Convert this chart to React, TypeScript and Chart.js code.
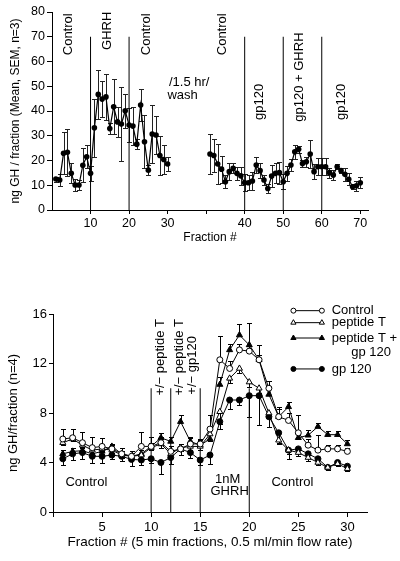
import React, { useEffect, useRef } from "react";
import { Chart, registerables } from "chart.js";

Chart.register(...registerables);
Chart.defaults.font.family = "'Liberation Sans', Arial, Helvetica, sans-serif";
Chart.defaults.color = "#000";

// ---------------- Top panel data ----------------
const topLeftFractions = [1,2,3,4,5,6,7,8,9,10,11,12,13,14,15,16,17,18,19,20,21,22,23,24,25,26,27,28,29,30];
const topLeftMean = [12.5,12.1,22.9,23.3,14.8,10.1,10.1,18.1,21.5,14.8,33.2,46.7,44.8,45.7,32.9,41.7,35.6,34.7,40.1,34.3,33.9,26.6,42.4,27.6,16.1,30.7,30.3,22.0,20.4,18.6];
const topLeftSem = [1.0,2.5,8.5,9.4,4.0,2.5,2.0,6.8,4.7,3.0,11.8,9.8,7.2,9.2,2.2,11.1,6.0,14.8,6.9,6.8,7.8,2.0,6.6,10.7,2.0,11.7,7.6,8.0,5.8,2.9];

const topRightFractions = [31,32,33,34,35,36,37,38,39,40,41,42,43,44,45,46,47,48,49,50,51,52,53,54,55,56,57,58,59,60,61,62,63,64,65,66,67,68,69,70];
const topRightMean = [22.6,22.0,18.6,16.5,11.4,15.5,16.8,14.8,13.8,11.0,11.0,11.7,18.2,15.9,12.1,8.7,13.7,14.8,15.1,11.4,14.8,18.2,23.5,24.5,18.8,19.5,22.6,15.5,17.5,17.5,17.5,15.1,14.1,17.5,15.9,14.4,12.4,9.4,9.8,11.0];
const topRightSem = [8.0,6.5,7.9,5.5,2.7,3.3,2.0,2.7,3.5,3.5,3.0,3.5,3.3,3.0,2.0,2.0,4.5,4.0,4.4,3.0,3.0,2.5,2.7,1.5,1.5,2.0,5.6,3.0,3.5,3.5,3.5,2.0,2.0,1.0,1.0,2.5,2.5,1.0,2.0,2.2];

// axis break: fractions after 30 are shifted along the axis by this amount (1.5 hr wash gap)
const AXIS_BREAK_AFTER = 30;
const AXIS_BREAK_SHIFT = 10;
const topTickFractions = [10, 20, 30, null, 40, 50, 60, 70];
const topPhaseFractions = [10, 20, 40, 50, 60];
const topPhaseHeight = 70;

// ---------------- Bottom panel data ----------------
const botFractions = [1,2,3,4,5,6,7,8,9,10,11,12,13,14,15,16,17,18,19,20,21,22,23,24,25,26,27,28,29,30];
const botControl = [5.9,6.0,5.6,5.2,5.3,5.1,4.7,4.5,5.3,5.3,5.6,4.9,5.1,5.5,5.5,6.7,12.3,11.6,13.1,13.0,12.3,10.0,7.7,7.4,6.4,5.4,5.0,5.1,5.1,4.9];
const botPeptideT = [5.6,5.9,5.4,5.0,5.1,5.0,4.6,4.5,4.6,5.2,5.5,4.7,5.2,5.3,5.3,6.3,8.1,10.8,11.6,10.5,10.0,8.0,5.8,5.0,4.8,4.4,4.0,3.6,3.9,3.5];
const botPeptideTgp = [4.7,4.9,4.95,4.7,4.9,5.3,4.7,4.5,4.7,5.3,6.0,5.7,7.3,5.7,5.4,5.9,10.3,13.1,14.3,13.5,12.3,9.5,7.7,8.5,6.0,6.2,6.9,6.25,6.25,5.5];
const botGp120 = [4.3,4.7,4.8,4.5,4.5,4.6,4.5,4.25,4.2,4.3,4.0,4.4,5.1,4.8,4.2,4.6,7.3,9.05,9.05,9.4,9.4,7.7,6.4,5.0,5.1,4.7,4.3,3.6,4.0,3.7];

const botControlErr = [0.8,0.7,0.85,0.9,0.7,0.3,0.5,0.4,1.2,0.8,0.5,0.4,0.4,0.6,0.4,1.1,1.9,0.6,0.5,0.4,0.4,0.6,0.6,0.6,1.4,0.5,1.2,0.3,0.3,0.3];
const botPeptideTErr = [0.2,0.2,0.2,0.2,0.2,0.2,0.2,0.2,0.2,0.2,0.3,0.3,0.3,0.3,0.3,0.6,1.0,0.4,0.4,0.4,0.4,0.4,0.3,0.3,0.3,0.3,0.2,0.2,0.2,0.2];
const botPeptideTgpErr = [0.3,0.3,0.3,0.3,0.3,0.2,0.2,0.3,0.3,0.3,0.4,0.4,0.5,0.3,0.4,0.8,0.6,0.5,0.9,1.8,1.2,0.6,0.8,0.4,0.4,0.4,0.3,0.3,0.3,0.3];
const botGp120Err = [0.5,0.5,0.5,0.5,0.5,0.3,0.4,0.5,0.4,0.3,0.9,0.5,0.5,0.4,0.4,0.7,0.6,0.7,0.4,1.7,2.4,0.8,0.8,0.7,0.3,0.3,0.3,0.2,0.2,0.2];

const botPhaseFractions = [10, 12, 15, 20];
const botPhaseHeight = 10;
const botTicks = [0, 5, 10, 15, 20, 25, 30];

const FONT = "'Liberation Sans', Arial, Helvetica, sans-serif";

function axisPos(f: number) {
  return f > AXIS_BREAK_AFTER ? f + AXIS_BREAK_SHIFT : f;
}

// ---------------- plugins ----------------
const errorBarPlugin = {
  id: "errorBars",
  beforeDatasetsDraw(chart: any) {
    const { ctx, scales } = chart;
    const x = scales.x, y = scales.y;
    chart.data.datasets.forEach((ds: any) => {
      if (!ds.errors) return;
      const cap = ds.errorCap ?? 3;
      const dir = ds.errorDir ?? 0;
      ctx.save();
      ctx.strokeStyle = ds.errorColor ?? "#000";
      ctx.lineWidth = 1;
      ds.data.forEach((pt: any, j: number) => {
        const e = ds.errors[j];
        if (!e) return;
        const px = Math.round(x.getPixelForValue(pt.x)) + 0.5;
        const hi = dir >= 0 ? pt.y + e : pt.y;
        const lo = dir <= 0 ? pt.y - e : pt.y;
        const yHi = Math.round(y.getPixelForValue(hi)) + 0.5;
        const yLo = Math.round(y.getPixelForValue(lo)) + 0.5;
        ctx.beginPath();
        ctx.moveTo(px, yHi);
        ctx.lineTo(px, yLo);
        if (dir >= 0) { ctx.moveTo(px - cap, yHi); ctx.lineTo(px + cap, yHi); }
        if (dir <= 0) { ctx.moveTo(px - cap, yLo); ctx.lineTo(px + cap, yLo); }
        ctx.stroke();
      });
      ctx.restore();
    });
  },
};

const notesPlugin = {
  id: "notes",
  afterDatasetsDraw(chart: any, _args: any, opts: any) {
    const { ctx, scales } = chart;
    const x = scales.x, y = scales.y;
    (opts.items || []).forEach((it: any) => {
      ctx.save();
      ctx.font = `${it.size ?? 13}px ${FONT}`;
      ctx.fillStyle = "#000";
      ctx.textAlign = it.align ?? "center";
      ctx.textBaseline = "middle";
      ctx.translate(x.getPixelForValue(it.x), y.getPixelForValue(it.y));
      if (it.rot) ctx.rotate(-Math.PI / 2);
      ctx.fillText(it.text, 0, 0);
      ctx.restore();
    });
  },
};

function drawMarker(ctx: CanvasRenderingContext2D, style: string, filled: boolean, cx: number, cy: number, r: number) {
  ctx.beginPath();
  if (style === "triangle") {
    let rad = 0;
    ctx.moveTo(cx + Math.sin(rad) * r, cy - Math.cos(rad) * r);
    rad += (2 * Math.PI) / 3;
    ctx.lineTo(cx + Math.sin(rad) * r, cy - Math.cos(rad) * r);
    rad += (2 * Math.PI) / 3;
    ctx.lineTo(cx + Math.sin(rad) * r, cy - Math.cos(rad) * r);
    ctx.closePath();
  } else {
    ctx.arc(cx, cy, r, 0, Math.PI * 2);
  }
  ctx.fillStyle = filled ? "#000" : "#fff";
  ctx.fill();
  ctx.strokeStyle = "#000";
  ctx.lineWidth = 1;
  ctx.stroke();
}

const keyPlugin = {
  id: "key",
  afterDraw(chart: any, _args: any, opts: any) {
    if (!opts.items) return;
    const { ctx, scales } = chart;
    const x = scales.x, y = scales.y;
    const x0 = x.getPixelForValue(opts.markerFrom);
    const x1 = x.getPixelForValue(opts.markerTo);
    const xt = x.getPixelForValue(opts.textAt);
    ctx.save();
    opts.items.forEach((it: any) => {
      const py = y.getPixelForValue(it.y);
      if (it.style) {
        ctx.beginPath();
        ctx.moveTo(x0, py);
        ctx.lineTo(x1, py);
        ctx.strokeStyle = "#000";
        ctx.lineWidth = 1;
        ctx.stroke();
        drawMarker(ctx, it.style, it.filled, x0, py, it.r);
        drawMarker(ctx, it.style, it.filled, x1, py, it.r);
      }
      ctx.font = `13px ${FONT}`;
      ctx.fillStyle = "#000";
      ctx.textAlign = "left";
      ctx.textBaseline = "middle";
      const tx = it.indent ? x.getPixelForValue(it.indent) : xt;
      ctx.fillText(it.text, tx, py);
    });
    ctx.restore();
  },
};

function fixedScale(opts: { width?: number; height?: number }) {
  return (scale: any) => {
    if (opts.width !== undefined) {
      scale.width = opts.width;
      scale.paddingTop = 0;
      scale.paddingBottom = 0;
    }
    if (opts.height !== undefined) {
      scale.height = opts.height;
      scale.paddingLeft = 0;
      scale.paddingRight = 0;
    }
  };
}

const axisGrid = { display: true, drawOnChartArea: false, drawTicks: true, tickLength: 5, color: "#000", lineWidth: 1 };
const axisBorder = { display: true, color: "#000", width: 1 };

function phaseLineDatasets(fracs: number[], top: number, map: (f: number) => number) {
  return fracs.map((f) => ({
    type: "line" as const,
    data: [{ x: map(f), y: 0 }, { x: map(f), y: top }],
    borderColor: "#000",
    borderWidth: 1,
    pointRadius: 0,
    fill: false,
  }));
}

function topConfig(): any {
  const leftData = topLeftFractions.map((f, i) => ({ x: axisPos(f), y: topLeftMean[i] }));
  const rightData = topRightFractions.map((f, i) => ({ x: axisPos(f), y: topRightMean[i] }));
  const seriesStyle = {
    borderColor: "#000",
    borderWidth: 1.2,
    pointRadius: 2.8,
    pointBackgroundColor: "#000",
    pointBorderColor: "#000",
    pointBorderWidth: 0,
    tension: 0,
    fill: false,
    errorDir: 0,
    errorCap: 2.5,
    errorColor: "#222",
  };
  const tickPositions = topTickFractions.map((f) =>
    f === null ? axisPos(AXIS_BREAK_AFTER) + AXIS_BREAK_SHIFT : axisPos(f)
  );
  const tickLabel = new Map<number, string>();
  topTickFractions.forEach((f, i) => tickLabel.set(tickPositions[i], f === null ? "" : String(f)));
  return {
    type: "line",
    data: {
      datasets: [
        { ...seriesStyle, data: leftData, errors: topLeftSem },
        { ...seriesStyle, data: rightData, errors: topRightSem },
        ...phaseLineDatasets(topPhaseFractions, topPhaseHeight, axisPos),
      ],
    },
    options: {
      responsive: false,
      animation: false,
      devicePixelRatio: 1,
      layout: { padding: { left: 0, right: 32, top: 12, bottom: 0 } },
      plugins: {
        legend: { display: false },
        tooltip: { enabled: false },
        notes: {
          items: [
            { text: "Control", x: 4.3, y: 71, rot: true },
            { text: "GHRH", x: 14.3, y: 72.4, rot: true },
            { text: "Control", x: 24.4, y: 71, rot: true },
            { text: "/1.5 hr/", x: 35.6, y: 51.6 },
            { text: "wash", x: 33.9, y: 46.4 },
            { text: "Control", x: 44.1, y: 71, rot: true },
            { text: "gp120", x: 53.9, y: 43.7, rot: true },
            { text: "gp120 + GHRH", x: 64.3, y: 53.7, rot: true },
            { text: "gp120", x: 75.0, y: 43.7, rot: true },
          ],
        },
      },
      scales: {
        x: {
          type: "linear",
          min: 0,
          max: 82,
          afterBuildTicks: (scale: any) => {
            scale.ticks = tickPositions.map((v) => ({ value: v }));
          },
          afterFit: fixedScale({ height: 50 }),
          ticks: {
            autoSkip: false,
            maxRotation: 0,
            padding: 2,
            font: { size: 12.5 },
            callback: (v: any) => tickLabel.get(Number(v)) ?? "",
          },
          grid: { ...axisGrid, tickLength: 4 },
          border: axisBorder,
          title: { display: true, text: "Fraction #", font: { size: 12 }, padding: { top: 0, bottom: 15 } },
        },
        y: {
          min: 0,
          max: 80,
          afterFit: fixedScale({ width: 52 }),
          ticks: { stepSize: 10, padding: 2, font: { size: 12.5 } },
          grid: axisGrid,
          border: axisBorder,
          title: {
            display: true,
            text: "ng GH / fraction (Mean, SEM, n=3)",
            font: { size: 12 },
            padding: { top: 8, bottom: 0 },
          },
        },
      },
    },
    plugins: [errorBarPlugin, notesPlugin],
  };
}

function bottomConfig(): any {
  const mk = (vals: number[]) => botFractions.map((f, i) => ({ x: f, y: vals[i] }));
  const base = { borderColor: "#000", borderWidth: 1, tension: 0, fill: false, pointBorderColor: "#000", pointBorderWidth: 1, errorCap: 2.5 };
  return {
    type: "line",
    data: {
      datasets: [
        { ...base, label: "Control", data: mk(botControl), pointStyle: "circle", pointRadius: 3, pointBackgroundColor: "#fff", errors: botControlErr, errorDir: 1 },
        { ...base, label: "peptide T", data: mk(botPeptideT), pointStyle: "triangle", pointRadius: 3.5, pointBackgroundColor: "#fff", errors: botPeptideTErr, errorDir: -1 },
        { ...base, label: "peptide T + gp 120", data: mk(botPeptideTgp), pointStyle: "triangle", pointRadius: 3.5, pointBackgroundColor: "#000", errors: botPeptideTgpErr, errorDir: 1 },
        { ...base, label: "gp 120", data: mk(botGp120), pointStyle: "circle", pointRadius: 3, pointBackgroundColor: "#000", errors: botGp120Err, errorDir: -1 },
        ...phaseLineDatasets(botPhaseFractions, botPhaseHeight, (f) => f),
      ],
    },
    options: {
      responsive: false,
      animation: false,
      devicePixelRatio: 1,
      layout: { padding: { left: 0, right: 33, top: 54, bottom: 0 } },
      plugins: {
        legend: { display: false },
        tooltip: { enabled: false },
        notes: {
          items: [
            { text: "+/\u2212 peptide T", x: 10.9, y: 12.5, rot: true },
            { text: "+/\u2212 peptide T", x: 12.9, y: 12.5, rot: true },
            { text: "+/\u2212 gp120", x: 14.2, y: 11.85, rot: true },
            { text: "Control", x: 3.4, y: 2.35 },
            { text: "1nM", x: 17.8, y: 2.6 },
            { text: "GHRH", x: 18.0, y: 1.7 },
            { text: "Control", x: 24.4, y: 2.35 },
          ],
        },
        key: {
          markerFrom: 24.5,
          markerTo: 27.4,
          textAt: 28.4,
          items: [
            { text: "Control", y: 16.27, style: "circle", filled: false, r: 2.5 },
            { text: "peptide T", y: 15.3, style: "triangle", filled: false, r: 3 },
            { text: "peptide T +", y: 14.06, style: "triangle", filled: true, r: 3 },
            { text: "gp 120", y: 12.93, indent: 30.4 },
            { text: "gp 120", y: 11.56, style: "circle", filled: true, r: 2.5 },
          ],
        },
      },
      scales: {
        x: {
          type: "linear",
          min: 0,
          max: 32,
          afterBuildTicks: (scale: any) => {
            scale.ticks = botTicks.map((v) => ({ value: v }));
          },
          afterFit: fixedScale({ height: 49 }),
          ticks: {
            autoSkip: false,
            maxRotation: 0,
            padding: 3,
            font: { size: 13 },
            callback: (v: any) => (Number(v) === 0 ? "" : String(v)),
          },
          grid: axisGrid,
          border: axisBorder,
          title: {
            display: true,
            text: "Fraction # (5 min fractions, 0.5 ml/min flow rate)",
            font: { size: 13.5 },
            padding: { top: 0, bottom: 11 },
          },
        },
        y: {
          min: 0,
          max: 16,
          afterFit: fixedScale({ width: 53 }),
          ticks: { stepSize: 4, padding: 2, font: { size: 13 } },
          grid: { ...axisGrid, tickLength: 4 },
          border: axisBorder,
          title: {
            display: true,
            text: "ng GH/fraction (n=4)",
            font: { size: 13 },
            padding: { top: 6, bottom: 0 },
          },
        },
      },
    },
    plugins: [errorBarPlugin, notesPlugin, keyPlugin],
  };
}

export default function App() {
  const topRef = useRef<HTMLCanvasElement>(null);
  const botRef = useRef<HTMLCanvasElement>(null);
  useEffect(() => {
    const top = new Chart(topRef.current as HTMLCanvasElement, topConfig());
    const bot = new Chart(botRef.current as HTMLCanvasElement, bottomConfig());
    return () => {
      top.destroy();
      bot.destroy();
    };
  }, []);
  return (
    <div style={{ position: "absolute", left: 0, top: 0, width: 400, height: 561, background: "#fff" }}>
      <canvas ref={topRef} width={400} height={260} style={{ position: "absolute", left: 0, top: 0, width: 400, height: 260 }} />
      <canvas ref={botRef} width={400} height={301} style={{ position: "absolute", left: 0, top: 260, width: 400, height: 301 }} />
    </div>
  );
}
